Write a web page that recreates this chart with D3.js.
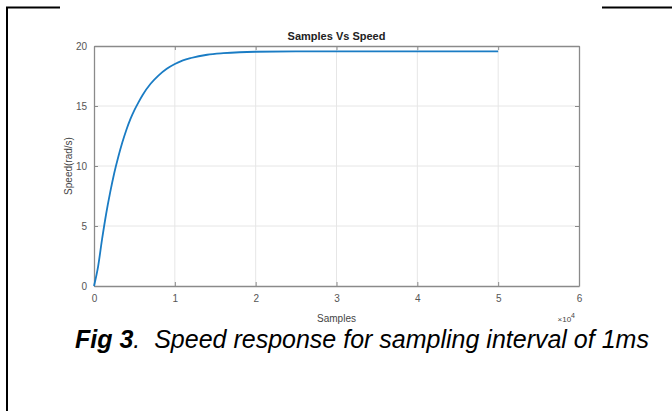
<!DOCTYPE html>
<html>
<head>
<meta charset="utf-8">
<script src="https://cdn.jsdelivr.net/npm/d3@7"></script>
<style>
  body { margin: 0; background: #fff; }
  text { font-family: "Liberation Sans", Arial, sans-serif; }
</style>
</head>
<body>
<div id="chart"></div>
<script>
// data (samples, speed in rad/s)
var samples = [0, 500, 1000, 1500, 2000, 2500, 3000, 3500, 4000, 4500, 5000, 5500,
               6000, 7000, 8000, 9000, 10000, 11000, 12000, 14000, 16000, 18000,
               20000, 25000, 30000, 40000, 50000];
var speed = [0, 1.6, 3.9, 6.0, 7.8, 9.4, 10.75, 11.95, 13.0, 13.9, 14.65, 15.3,
             15.9, 16.85, 17.55, 18.1, 18.5, 18.8, 19.0, 19.27, 19.4, 19.48,
             19.52, 19.55, 19.55, 19.55, 19.55];
var xTicks = [0, 10000, 20000, 30000, 40000, 50000, 60000];
var yTicks = [0, 5, 10, 15, 20];

var svgWidth = 672;
var svgHeight = 411;

var margin = {
  top: 46,
  right: 93,
  bottom: 125,
  left: 94
};

var width = svgWidth - margin.left - margin.right;
var height = svgHeight - margin.top - margin.bottom;

var svg = d3.select("#chart")
    .append("svg")
    .attr("width", svgWidth)
    .attr("height", svgHeight);

// page border pieces
svg.append("line").attr("x1", 7).attr("x2", 7).attr("y1", 7).attr("y2", svgHeight)
  .attr("stroke", "#000").attr("stroke-width", 2);
svg.append("line").attr("x1", 6).attr("x2", 60).attr("y1", 7.5).attr("y2", 7.5)
  .attr("stroke", "#000").attr("stroke-width", 2);
svg.append("line").attr("x1", 602).attr("x2", 672).attr("y1", 7.5).attr("y2", 7.5)
  .attr("stroke", "#000").attr("stroke-width", 2);

var chartGroup = svg.append("g")
  .attr("transform", `translate(${margin.left}, ${margin.top})`);

var xScale = d3.scaleLinear().domain([0, 60000]).range([0, width]);
var yScale = d3.scaleLinear().domain([0, 20]).range([height, 0]);

// grid
chartGroup.append("g").selectAll("line").data(xTicks.slice(1, -1)).enter()
  .append("line")
  .attr("x1", d => xScale(d)).attr("x2", d => xScale(d))
  .attr("y1", 0).attr("y2", height)
  .attr("stroke", "#e6e6e6");
chartGroup.append("g").selectAll("line").data(yTicks.slice(1, -1)).enter()
  .append("line")
  .attr("x1", 0).attr("x2", width)
  .attr("y1", d => yScale(d)).attr("y2", d => yScale(d))
  .attr("stroke", "#e6e6e6");

// axes, ticks inward on all four sides
var bottomAxis = d3.axisBottom(xScale).tickValues(xTicks).tickSizeInner(-4).tickSizeOuter(0)
  .tickPadding(9).tickFormat(d => d / 10000);
var topAxis = d3.axisTop(xScale).tickValues(xTicks).tickSizeInner(-4).tickSizeOuter(0).tickFormat("");
var leftAxis = d3.axisLeft(yScale).tickValues(yTicks).tickSizeInner(-4).tickSizeOuter(0).tickPadding(7);
var rightAxis = d3.axisRight(yScale).tickValues(yTicks).tickSizeInner(-4).tickSizeOuter(0).tickFormat("");

function styleAxis(g) {
  g.select(".domain").attr("stroke", "#8a8a8a").attr("stroke-width", 1.3);
  g.selectAll(".tick line").attr("stroke", "#8a8a8a");
  g.selectAll(".tick text").attr("fill", "#555").attr("font-size", "10px")
    .attr("font-family", "'Liberation Sans', Arial, sans-serif");
}

chartGroup.append("g").attr("transform", `translate(0, ${height})`).call(bottomAxis).call(styleAxis);
chartGroup.append("g").call(topAxis).call(styleAxis);
chartGroup.append("g").call(leftAxis).call(styleAxis);
chartGroup.append("g").attr("transform", `translate(${width}, 0)`).call(rightAxis).call(styleAxis);

// speed line
var points = samples.map((s, i) => [s, speed[i]]);
var line = d3.line()
  .x(d => xScale(d[0]))
  .y(d => yScale(d[1]))
  .curve(d3.curveMonotoneX);

chartGroup.append("path")
  .datum(points)
  .attr("d", line)
  .attr("fill", "none")
  .attr("stroke", "#1a7cc4")
  .attr("stroke-width", 1.8);

// titles and labels
chartGroup.append("text")
  .attr("x", width / 2)
  .attr("y", -6)
  .attr("text-anchor", "middle")
  .attr("font-size", "11px")
  .attr("font-weight", "bold")
  .attr("fill", "#222")
  .text("Samples Vs Speed");

chartGroup.append("text")
  .attr("transform", "rotate(-90)")
  .attr("x", -height / 2)
  .attr("y", -22)
  .attr("text-anchor", "middle")
  .attr("font-size", "10px")
  .attr("fill", "#444")
  .text("Speed(rad/s)");

chartGroup.append("text")
  .attr("x", width / 2)
  .attr("y", height + 36)
  .attr("text-anchor", "middle")
  .attr("font-size", "10px")
  .attr("fill", "#444")
  .text("Samples");

var expLabel = chartGroup.append("text")
  .attr("x", width - 4)
  .attr("y", height + 36)
  .attr("text-anchor", "end")
  .attr("font-size", "8px")
  .attr("fill", "#444");
expLabel.append("tspan").text("\u00d710");
expLabel.append("tspan").attr("dy", -4).attr("font-size", "7px").text("4");

// figure caption
var caption = svg.append("text")
  .attr("x", 75)
  .attr("y", 348)
  .attr("font-size", "25px")
  .attr("font-style", "italic")
  .attr("fill", "#000");
caption.append("tspan").attr("font-weight", "bold").text("Fig 3");
caption.append("tspan").text(".\u00a0 Speed response for sampling interval of 1ms");
</script>
</body>
</html>
